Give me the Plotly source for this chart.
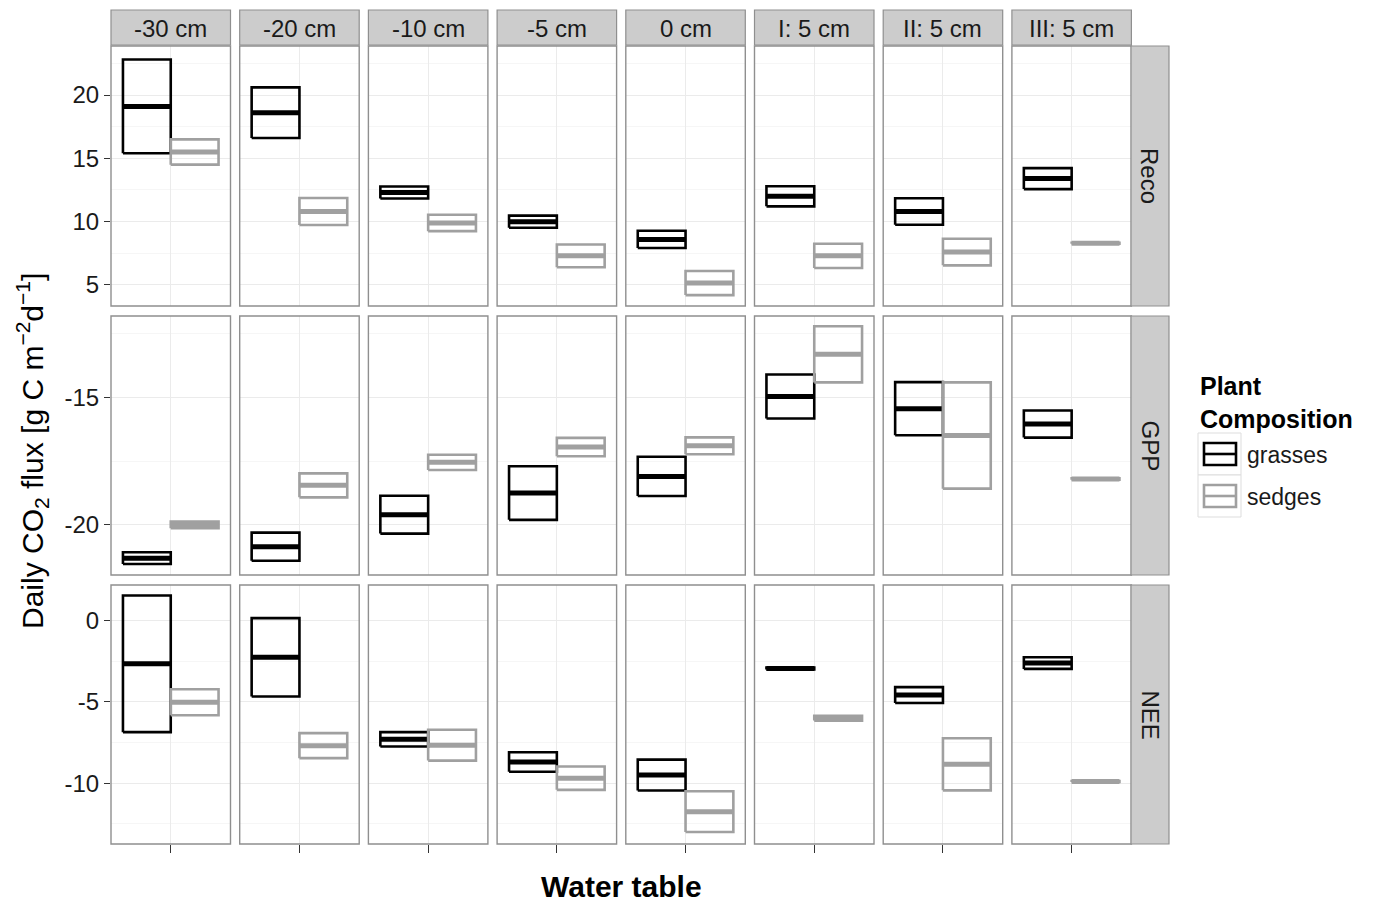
import plotly.graph_objects as go

# ---- data: daily CO2 flux, mean and standard error per water table level ----
water_table = ["-30 cm", "-20 cm", "-10 cm", "-5 cm", "0 cm", "I: 5 cm", "II: 5 cm", "III: 5 cm"]
flux_types = ["Reco", "GPP", "NEE"]
groups = ["grasses", "sedges"]

reco_grasses_mean = [19.1, 18.6, 12.3, 10.0, 8.6, 12.0, 10.8, 13.4]
reco_grasses_se = [3.7, 2.0, 0.47, 0.48, 0.68, 0.79, 1.05, 0.83]
reco_sedges_mean = [15.5, 10.8, 9.9, 7.3, 5.15, 7.3, 7.6, 8.3]
reco_sedges_se = [1.0, 1.07, 0.65, 0.9, 0.95, 0.96, 1.05, 0.04]

gpp_grasses_mean = [-21.3, -20.85, -19.6, -18.75, -18.1, -14.97, -15.45, -16.05]
gpp_grasses_se = [0.23, 0.55, 0.74, 1.05, 0.77, 0.86, 1.04, 0.53]
gpp_sedges_mean = [-20.0, -18.45, -17.55, -16.95, -16.9, -13.32, -16.5, -18.2]
gpp_sedges_se = [0.13, 0.47, 0.3, 0.36, 0.33, 1.1, 2.08, 0.03]

nee_grasses_mean = [-2.66, -2.26, -7.3, -8.7, -9.5, -2.95, -4.58, -2.61]
nee_grasses_se = [4.2, 2.41, 0.44, 0.6, 0.95, 0.06, 0.49, 0.36]
nee_sedges_mean = [-5.02, -7.69, -7.66, -9.69, -11.75, -6.0, -8.84, -9.9]
nee_sedges_se = [0.8, 0.77, 0.95, 0.72, 1.25, 0.15, 1.6, 0.03]

means = {
    "Reco": {"grasses": reco_grasses_mean, "sedges": reco_sedges_mean},
    "GPP": {"grasses": gpp_grasses_mean, "sedges": gpp_sedges_mean},
    "NEE": {"grasses": nee_grasses_mean, "sedges": nee_sedges_mean},
}
ses = {
    "Reco": {"grasses": reco_grasses_se, "sedges": reco_sedges_se},
    "GPP": {"grasses": gpp_grasses_se, "sedges": gpp_sedges_se},
    "NEE": {"grasses": nee_grasses_se, "sedges": nee_sedges_se},
}

# y axis ticks per row (labels written with a plain hyphen)
major_ticks = {"Reco": [5, 10, 15, 20], "GPP": [-20, -15], "NEE": [-10, -5, 0]}
major_labels = {"Reco": ["5", "10", "15", "20"], "GPP": ["-20", "-15"], "NEE": ["-10", "-5", "0"]}
minor_ticks = {"Reco": [7.5, 12.5, 17.5, 22.5], "GPP": [-17.5, -12.5], "NEE": [-12.5, -7.5, -2.5]}
y_ranges = {"Reco": [3.34, 23.87], "GPP": [-21.96, -11.82], "NEE": [-13.74, 2.19]}

# ---- layout geometry (pixels) ----
W, H = 1378, 906
col_px = [(111 + i * 128.7, 111 + i * 128.7 + 119.5) for i in range(8)]
row_px = [(46, 306), (316, 575), (585, 844)]
strip_top = (10, 45)
strip_right = (1131, 1169)

FONT = "Liberation Sans, Arial, Helvetica, sans-serif"
colors = {"grasses": "#000000", "sedges": "#A0A0A0"}
offset = {"grasses": -0.24, "sedges": 0.24}
half_w = 0.24


def fx(p):
    return p / W


def fy(p):
    return 1 - p / H


fig = go.Figure()
layout = dict(
    width=W, height=H, margin=dict(l=0, r=0, t=0, b=0),
    paper_bgcolor="white", plot_bgcolor="white", showlegend=False,
    font=dict(family=FONT, color="#1A1A1A"),
)
shapes = []
annotations = []

for r, flux in enumerate(flux_types):
    for c, wt in enumerate(water_table):
        k = r * 8 + c + 1
        xa = "x" if k == 1 else f"x{k}"
        ya = "y" if k == 1 else f"y{k}"
        xkey = "xaxis" if k == 1 else f"xaxis{k}"
        ykey = "yaxis" if k == 1 else f"yaxis{k}"
        x0p, x1p = col_px[c]
        y0p, y1p = row_px[r]
        layout[xkey] = dict(
            domain=[fx(x0p), fx(x1p)], anchor=ya, range=[0.4, 1.6],
            tickvals=[1], showticklabels=False,
            showgrid=True, gridcolor="#EBEBEB", gridwidth=1,
            zeroline=False, showline=False, fixedrange=True,
            ticks="outside" if r == 2 else "", ticklen=8, tickwidth=1.4, tickcolor="#333333",
        )
        layout[ykey] = dict(
            domain=[fy(y1p), fy(y0p)], anchor=xa, range=y_ranges[flux],
            tickvals=major_ticks[flux], ticktext=major_labels[flux],
            showgrid=True, gridcolor="#EBEBEB", gridwidth=1,
            minor=dict(tickvals=minor_ticks[flux], showgrid=True, gridcolor="#F6F6F6", gridwidth=1),
            zeroline=False, showline=False, fixedrange=True,
            showticklabels=(c == 0), ticks="outside" if c == 0 else "",
            ticklen=6, tickwidth=1.4, tickcolor="#333333",
            tickfont=dict(size=24, color="#1A1A1A", family=FONT),
        )
        # crossbars: box from mean - se to mean + se, thick line at mean
        for g in groups:
            m = means[flux][g][c]
            s = ses[flux][g][c]
            xc = 1 + offset[g]
            xl, xr = xc - half_w, xc + half_w
            fig.add_trace(go.Scatter(
                x=[xl, xr, xr, xl, xl], y=[m - s, m - s, m + s, m + s, m - s],
                mode="lines", line=dict(color=colors[g], width=2.6),
                xaxis=xa, yaxis=ya, hoverinfo="skip", name=g,
            ))
            fig.add_trace(go.Scatter(
                x=[xl, xr], y=[m, m], mode="lines",
                line=dict(color=colors[g], width=5),
                xaxis=xa, yaxis=ya, name=g,
                hovertemplate=f"{flux} {wt} {g}: {m} ± {s}<extra></extra>",
            ))
        # panel border
        shapes.append(dict(type="rect", xref="paper", yref="paper",
                           x0=fx(x0p), x1=fx(x1p), y0=fy(y1p), y1=fy(y0p),
                           line=dict(color="#8F8F8F", width=1.4), layer="above"))

# column strips
for c, wt in enumerate(water_table):
    x0p, x1p = col_px[c]
    shapes.append(dict(type="rect", xref="paper", yref="paper",
                       x0=fx(x0p), x1=fx(x1p), y0=fy(strip_top[1]), y1=fy(strip_top[0]),
                       fillcolor="#CCCCCC", line=dict(color="#8F8F8F", width=1.2)))
    annotations.append(dict(text=wt, xref="paper", yref="paper",
                            x=fx((x0p + x1p) / 2), y=fy((strip_top[0] + strip_top[1]) / 2 + 1),
                            showarrow=False, xanchor="center", yanchor="middle",
                            font=dict(size=24, color="#1A1A1A", family=FONT)))

# row strips
for r, flux in enumerate(flux_types):
    y0p, y1p = row_px[r]
    shapes.append(dict(type="rect", xref="paper", yref="paper",
                       x0=fx(strip_right[0]), x1=fx(strip_right[1]), y0=fy(y1p), y1=fy(y0p),
                       fillcolor="#CCCCCC", line=dict(color="#8F8F8F", width=1.2)))
    annotations.append(dict(text=flux, xref="paper", yref="paper",
                            x=fx((strip_right[0] + strip_right[1]) / 2), y=fy((y0p + y1p) / 2),
                            showarrow=False, textangle=90, xanchor="center", yanchor="middle",
                            font=dict(size=24, color="#1A1A1A", family=FONT)))

# axis titles
annotations.append(dict(text="Water table", xref="paper", yref="paper",
                        x=fx(621), y=fy(886), showarrow=False, xanchor="center", yanchor="middle",
                        font=dict(size=30, color="#000000", family=FONT, weight="bold")))
annotations.append(dict(text="Daily CO<sub>2</sub> flux [g C m<sup>\u22122</sup>d<sup>\u22121</sup>]",
                        xref="paper", yref="paper", x=fx(32), y=fy(451), showarrow=False,
                        textangle=-90, xanchor="center", yanchor="middle",
                        font=dict(size=30, color="#000000", family=FONT)))

# legend
annotations.append(dict(text="<b>Plant<br>Composition</b>", xref="paper", yref="paper",
                        x=fx(1198), y=fy(370), showarrow=False, xanchor="left", yanchor="top",
                        align="left", font=dict(size=25, color="#000000", family=FONT)))
for i, g in enumerate(groups):
    top = 433 + i * 42
    shapes.append(dict(type="rect", xref="paper", yref="paper",
                       x0=fx(1198), x1=fx(1241), y0=fy(top + 42), y1=fy(top),
                       fillcolor="white", line=dict(color="#DDDDDD", width=1)))
    shapes.append(dict(type="rect", xref="paper", yref="paper",
                       x0=fx(1204), x1=fx(1236), y0=fy(top + 32), y1=fy(top + 10),
                       line=dict(color=colors[g], width=2.6)))
    shapes.append(dict(type="line", xref="paper", yref="paper",
                       x0=fx(1204), x1=fx(1236), y0=fy(top + 21), y1=fy(top + 21),
                       line=dict(color=colors[g], width=2.6)))
    annotations.append(dict(text=g, xref="paper", yref="paper",
                            x=fx(1245), y=fy(top + 22), showarrow=False,
                            xanchor="left", yanchor="middle",
                            font=dict(size=23, color="#1A1A1A", family=FONT)))

layout["shapes"] = shapes
layout["annotations"] = annotations
fig.update_layout(**layout)
fig.write_html("out.html")
